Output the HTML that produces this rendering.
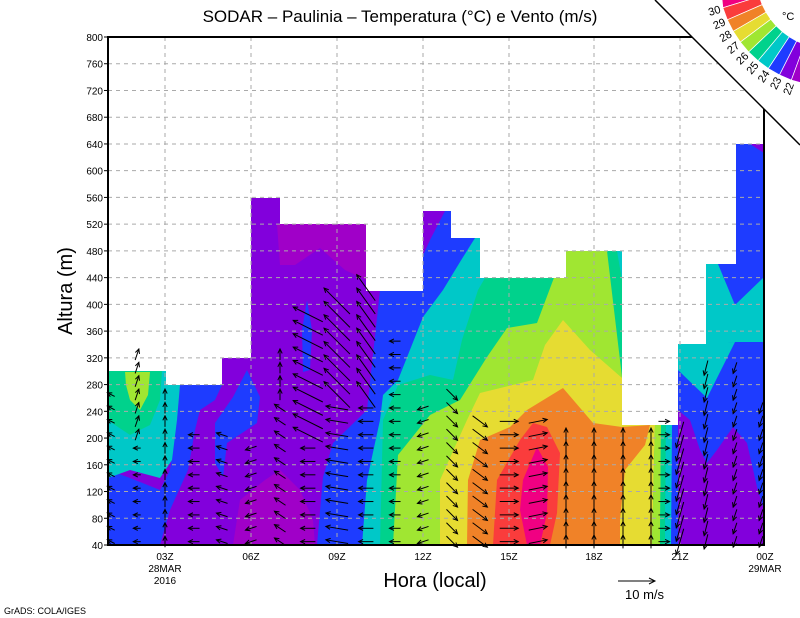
<!DOCTYPE html>
<html><head><meta charset="utf-8"><style>
html,body{margin:0;padding:0;background:#fff}
svg{display:block}
text{font-family:"Liberation Sans",sans-serif}
</style></head><body>
<svg id="s" width="800" height="618" viewBox="0 0 800 618" xmlns="http://www.w3.org/2000/svg">
<rect width="800" height="618" fill="#fff"/>
<g id="fills">
<rect x="108" y="37" width="656" height="508" fill="#8200dc"/>
<polygon fill="#a000c8" points="233,545 240,500 265,480 280,470 300,490 313,520 315,545"/>
<polygon fill="#a000c8" points="277,224 366,224 366,280 345,270 320,248 295,265 280,265"/>
<polygon fill="#1e3cff" points="108,470 130,478 160,490 170,470 177,420 180,385 222,385 215,400 200,410 195,430 188,470 170,510 160,545 108,545"/>
<polygon fill="#00c8c8" points="108,371 166,371 166,385 180,385 177,420 172,460 160,478 130,470 108,478"/>
<polygon fill="#00d28c" points="108,371 162,371 160,400 150,425 130,435 115,425 108,420"/>
<polygon fill="#a0e632" points="125,372 150,372 148,395 140,410 130,400 126,385"/>
<polygon fill="#1e3cff" points="247,370 260,397 257,423 227,443 223,477 215,463 215,423 233,397"/>
<polygon fill="#1e3cff" points="307,300 312,330 310,370 303,372 302,330"/>
<polygon fill="#1e3cff" points="317,545 323,477 333,443 367,410 380,290 390,275 420,262 430,240 445,211 764,140 764,545"/>
<polygon fill="#00c8c8" points="362,545 367,480 380,420 383,395 398,380 423,317 443,290 460,262 475,238 764,238 764,545"/>
<polygon fill="#00d28c" points="380,545 383,420 398,385 430,375 453,380 462,340 478,290 485,278 566,278 566,251 617,251 622,280 622,545"/>
<polygon fill="#a0e632" points="393,545 398,455 430,415 460,400 487,357 507,328 537,323 552,283 564,251 607,251 622,377 622,545"/>
<polygon fill="#e6dc32" points="440,545 440,480 467,420 480,393 533,380 545,345 563,320 590,350 622,378 622,425 655,425 652,545"/>
<polygon fill="#f08228" points="467,545 468,480 480,440 510,427 527,410 563,388 593,423 622,427 650,425 645,445 625,470 620,520 620,545"/>
<polygon fill="#fa3c3c" points="493,545 497,480 520,440 533,423 547,427 560,453 557,513 550,545"/>
<polygon fill="#f00082" points="527,545 520,510 523,480 537,447 548,467 547,513 540,545"/>
<polygon fill="#a0e632" points="655,425 661,425 660,545 652,545"/>
<polygon fill="#00d28c" points="661,425 666,425 665,545 660,545"/>
<polygon fill="#00c8c8" points="666,425 672,425 671,545 665,545"/>
<polygon fill="#1e3cff" points="672,425 680,425 680,545 671,545"/>
<rect x="678" y="140" width="86" height="405" fill="#1e3cff"/>
<polygon fill="#8200dc" points="750,144 764,144 764,153"/>
<polygon fill="#00c8c8" points="706,264 764,264 764,342 735,342 706,344"/>
<polygon fill="#1e3cff" points="718,264 764,264 764,277 735,305"/>
<polygon fill="#00c8c8" points="678,344 735,342 707,398 678,370"/>
<polygon fill="#8200dc" points="678,410 690,420 700,450 707,463 717,450 733,427 747,443 757,487 764,510 764,545 678,545"/>
</g>
<polygon fill="#fff" points="108,37 108,371 166,371 166,385 222,385 222,358 251,358 251,198 280,198 280,224 366,224 366,291 423,291 423,211 451,211 451,238 480,238 480,278 566,278 566,251 622,251 622,425 678,425 678,344 706,344 706,264 736,264 736,144 764,144 764,37"/>
<g id="grid" stroke="#aaa" stroke-width="1" stroke-dasharray="4,4"></g>
<g id="arrows" stroke="#000" stroke-width="1" fill="none"></g>
<g stroke="#000" stroke-width="2" fill="none">
<polyline points="692,37 108,37 108,545 764,545 764,109"/>
</g>
<g id="labels" font-size="10" fill="#000"></g>
<text x="400" y="22" font-size="17" text-anchor="middle">SODAR – Paulinia – Temperatura (°C) e Vento (m/s)</text>
<text x="72" y="291" font-size="20" text-anchor="middle" transform="rotate(-90 72 291)">Altura (m)</text>
<text x="435" y="587" font-size="20" text-anchor="middle">Hora (local)</text>
<g font-size="10" text-anchor="middle">
<text x="165" y="560">03Z</text><text x="165" y="572">28MAR</text><text x="165" y="584">2016</text>
<text x="251" y="560">06Z</text><text x="337" y="560">09Z</text><text x="423" y="560">12Z</text>
<text x="509" y="560">15Z</text><text x="594" y="560">18Z</text><text x="680" y="560">21Z</text>
<text x="765" y="560">00Z</text><text x="765" y="572">29MAR</text>
</g>
<g stroke="#000" fill="none"><line x1="618" y1="581" x2="655" y2="581"/><polyline points="649,578 655,581 649,584"/></g>
<text x="625" y="599" font-size="13">10 m/s</text>
<text x="4" y="614" font-size="9">GrADS: COLA/IGES</text>
<polygon fill="#fff" points="655,0 800,0 800,145"/>
<line x1="655" y1="0" x2="800" y2="145" stroke="#000" stroke-width="1.5"/>
<g id="wheel"></g>
<text x="782" y="20" font-size="11">°C</text>
</svg>
<script>
(function(){
var NS="http://www.w3.org/2000/svg";
function el(p,t,a,txt){var e=document.createElementNS(NS,t);for(var k in a)e.setAttribute(k,a[k]);if(txt!==undefined)e.textContent=txt;document.getElementById(p).appendChild(e);return e;}
function Y(h){return 545-(h-40)*508/760;}
for(var h=80;h<=760;h+=40){el("grid","line",{x1:108,x2:764,y1:Y(h),y2:Y(h)});}
[165,251,337,423,509,594,680].forEach(function(x){el("grid","line",{x1:x,x2:x,y1:37,y2:545});});
for(var h=40;h<=800;h+=40){el("labels","text",{x:103,y:Y(h)+4,"text-anchor":"end"},String(h));
 el("labels","line",{x1:104,x2:108,y1:Y(h),y2:Y(h),stroke:"#000"});}
var cols=[
[111,270,function(h){return[-2,1]}],
[137,340,function(h){return h>200?[1,3]:[-2,0]}],
[165,280,function(h){return[0,3]}],
[194,210,function(h){return[-3,0]}],
[222,210,function(h){return[-3,1]}],
[251,200,function(h){return[-3,-1]}],
[280,330,function(h){return h>250?[0,3]:[-3,2]}],
[308,400,function(h){return h>200?[-8,4]:[-4,0]}],
[337,420,function(h){return h>250?[-7,7]:[-6,1]}],
[366,430,function(h){return h>250?[-5,7]:[-4,0]}],
[395,360,function(h){return[-3,0]}],
[423,250,function(h){return[-3,-1]}],
[452,270,function(h){return[3,-3]}],
[480,240,function(h){return[4,-3]}],
[509,240,function(h){return[5,0]}],
[538,230,function(h){return[5,1]}],
[566,210,function(h){return[0,3.6]}],
[594,210,function(h){return[0,3.6]}],
[623,210,function(h){return[0,3.6]}],
[651,210,function(h){return[0,3.6]}],
[664,230,function(h){return[3,0]}],
[680,210,function(h){return[-2,-7]}],
[706,320,function(h){return[-1,-4]}],
[735,320,function(h){return[-1,-3]}],
[761,260,function(h){return[-1,-3]}]];
cols.forEach(function(c){var x=c[0],t=c[1];for(var h=45;h<=t;h+=20){var d=c[2](h),u=d[0]*3.7,v=-d[1]*3.7,y=Y(h);
 var x1=x-u/2,y1=y-v/2,x2=x+u/2,y2=y+v/2,L=Math.sqrt(u*u+v*v);if(L<1)continue;var a=Math.atan2(v,u);
 var p=function(s){return (x2-5*Math.cos(a+s))+","+(y2-5*Math.sin(a+s));};
 el("arrows","polyline",{points:x1+","+y1+" "+x2+","+y2});
 el("arrows","polyline",{points:p(0.45)+" "+x2+","+y2+" "+p(-0.45)});}});
var cx=830,cy=-25,r1=74,r2=112;
var cs=["#f00082","#fa3c3c","#f08228","#e6dc32","#a0e632","#00d28c","#00c8c8","#1e3cff","#8200dc","#a000c8"];
var lb=["30","29","28","27","26","25","24","23","22"];
var bnd=[185];for(var i=0;i<9;i++)bnd.push(163-6.6*i);bnd.push(100);
for(var i=0;i<10;i++){var a0=bnd[i]*Math.PI/180,a1=bnd[i+1]*Math.PI/180;
 var pts=[[cx+r1*Math.cos(a0),cy+r1*Math.sin(a0)],[cx+r2*Math.cos(a0),cy+r2*Math.sin(a0)],[cx+r2*Math.cos(a1),cy+r2*Math.sin(a1)],[cx+r1*Math.cos(a1),cy+r1*Math.sin(a1)]];
 el("wheel","polygon",{fill:cs[i],stroke:"#fff","stroke-width":0.7,points:pts.map(function(p){return p.join(",")}).join(" ")});}
for(var i=0;i<9;i++){var ad=bnd[i+1],ar=ad*Math.PI/180,lx=cx+(r2+9)*Math.cos(ar),ly=cy+(r2+9)*Math.sin(ar);
  el("wheel","text",{x:lx,y:ly+4,"font-size":11,"text-anchor":"middle",transform:"rotate("+(ad-180)+" "+lx+" "+ly+")"},lb[i]);}
})();
</script>
</body></html>
